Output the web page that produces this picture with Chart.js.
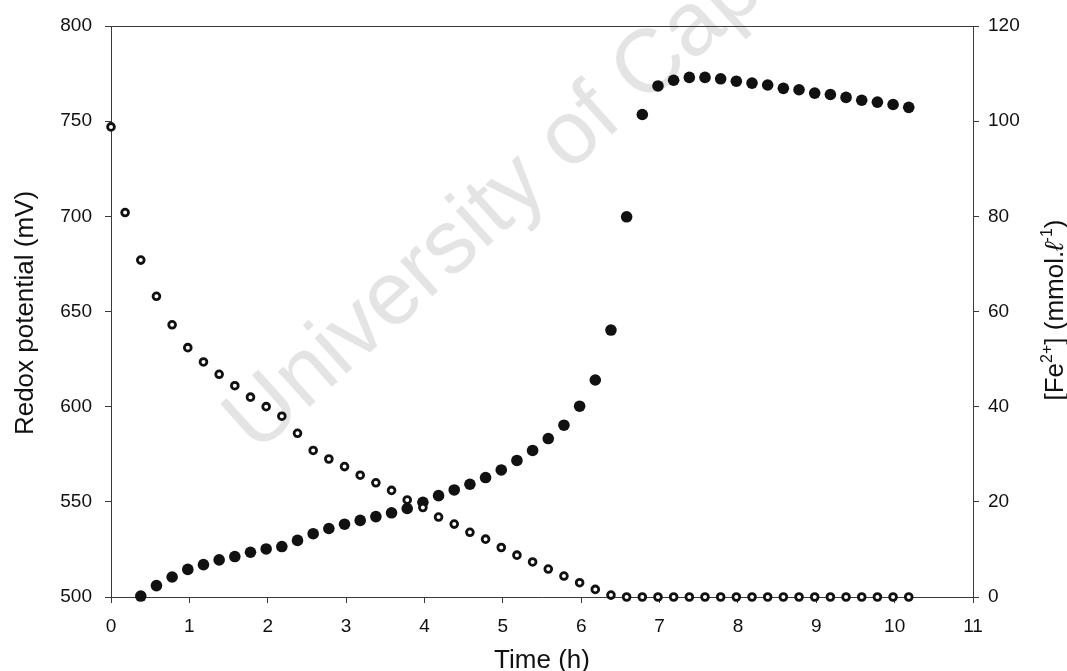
<!DOCTYPE html>
<html>
<head>
<meta charset="utf-8">
<script src="https://cdn.jsdelivr.net/npm/chart.js@4.4.1/dist/chart.umd.min.js"></script>
<style>
  html, body { margin: 0; padding: 0; background: #ffffff; }
  #wrap { width: 1067px; height: 671px; position: relative; }
</style>
</head>
<body>
<div id="wrap"><canvas id="c"></canvas></div>
<script>
// Sampling times (h) of the redox potential readings
const redoxTimes = [0, 0.18, 0.38, 0.58, 0.78, 0.98, 1.18, 1.38, 1.58, 1.78, 1.98,
  2.18, 2.38, 2.58, 2.78, 2.98, 3.18, 3.38, 3.58, 3.78, 3.98,
  4.18, 4.38, 4.58, 4.78, 4.98, 5.18, 5.38, 5.58, 5.78, 5.98,
  6.18, 6.38, 6.58, 6.78, 6.98, 7.18, 7.38, 7.58, 7.78, 7.98,
  8.18, 8.38, 8.58, 8.78, 8.98, 9.18, 9.38, 9.58, 9.78, 9.98, 10.18];

// Redox potential (mV), open circles, left axis
const redoxValues = [747, 702, 677, 658, 643, 631, 623.5, 617, 611, 605, 600,
  595, 586, 577, 572.5, 568.5, 564, 560, 556, 551, 547,
  542, 538.3, 534, 530.4, 526, 522, 518.4, 514.7, 511, 507.5,
  504, 501, 500, 500, 500, 500, 500, 500, 500, 500,
  500, 500, 500, 500, 500, 500, 500, 500, 500, 500, 500];

// Sampling times (h) of the ferrous iron readings
const ironTimes = [0.38, 0.58, 0.78, 0.98, 1.18, 1.38, 1.58, 1.78, 1.98,
  2.18, 2.38, 2.58, 2.78, 2.98, 3.18, 3.38, 3.58, 3.78, 3.98,
  4.18, 4.38, 4.58, 4.78, 4.98, 5.18, 5.38, 5.58, 5.78, 5.98,
  6.18, 6.38, 6.58, 6.78, 6.98, 7.18, 7.38, 7.58, 7.78, 7.98,
  8.18, 8.38, 8.58, 8.78, 8.98, 9.18, 9.38, 9.58, 9.78, 9.98, 10.18];

// [Fe2+] (mmol/l), filled circles, right axis
const ironValues = [0.2, 2.4, 4.2, 5.8, 6.8, 7.8, 8.5, 9.4, 10.1,
  10.6, 11.9, 13.3, 14.4, 15.3, 16.1, 16.9, 17.7, 18.6, 19.9,
  21.3, 22.5, 23.7, 25.1, 26.7, 28.7, 30.8, 33.3, 36.1, 40.1,
  45.6, 56.1, 79.9, 101.4, 107.4, 108.6, 109.2, 109.2, 108.9, 108.4,
  108.0, 107.6, 106.9, 106.6, 105.9, 105.6, 105.0, 104.4, 104.0, 103.5, 102.9];

// Axis ranges and tick steps
const timeAxis = { min: 0, max: 11, step: 1 };
const redoxAxis = { min: 500, max: 800, step: 50 };
const ironAxis = { min: 0, max: 120, step: 20 };

const FONT = "'Liberation Sans', Arial, 'DejaVu Sans', sans-serif";
const INK = '#111111';
const AXIS = '#3a3a3a';

const toPoints = (xs, ys) => xs.map((x, i) => ({ x, y: ys[i] }));

// Frame line along the top of the plot area
const topFrame = {
  id: 'topFrame',
  afterDraw(chart) {
    const { ctx, chartArea: a } = chart;
    ctx.save();
    ctx.strokeStyle = AXIS;
    ctx.lineWidth = 1;
    ctx.beginPath();
    ctx.moveTo(a.left - 6, a.top + 0.5);
    ctx.lineTo(a.right + 6, a.top + 0.5);
    ctx.stroke();
    ctx.restore();
  }
};

// Faint diagonal institution mark behind the data
const watermark = {
  id: 'watermark',
  beforeDatasetsDraw(chart) {
    const { ctx } = chart;
    ctx.save();
    ctx.translate(240, 436);
    ctx.rotate(-42 * Math.PI / 180);
    ctx.font = `90px ${FONT}`;
    ctx.fillStyle = '#e4e4e4';
    ctx.textAlign = 'left';
    ctx.textBaseline = 'middle';
    ctx.fillText('University of Cape Town', 0, 0);
    ctx.restore();
  }
};

// Axis titles, including the superscripted concentration unit
const axisTitles = {
  id: 'axisTitles',
  afterDraw(chart) {
    const { ctx, chartArea: a } = chart;
    ctx.save();
    ctx.fillStyle = INK;

    // bottom
    ctx.font = `26px ${FONT}`;
    ctx.textAlign = 'center';
    ctx.textBaseline = 'alphabetic';
    ctx.fillText('Time (h)', (a.left + a.right) / 2, 668);

    // left
    ctx.save();
    ctx.translate(33, 313);
    ctx.rotate(-Math.PI / 2);
    ctx.fillText('Redox potential (mV)', 0, 0);
    ctx.restore();

    // right, built from runs so the charge and exponent sit raised
    const size = 26, sup = 16;
    const runs = [
      { t: '[Fe', f: `${size}px ${FONT}`, dy: 0 },
      { t: '2+', f: `${sup}px ${FONT}`, dy: -11 },
      { t: '] (mmol.', f: `${size}px ${FONT}`, dy: 0 },
      { t: '\u2113', f: `italic ${size}px ${FONT}`, dy: 0 },
      { t: '-1', f: `${sup}px ${FONT}`, dy: -11 },
      { t: ')', f: `${size}px ${FONT}`, dy: 0 }
    ];
    let total = 0;
    runs.forEach(r => { ctx.font = r.f; r.w = ctx.measureText(r.t).width; total += r.w; });
    ctx.save();
    ctx.translate(1063, 310);
    ctx.rotate(-Math.PI / 2);
    ctx.textAlign = 'left';
    let x = -total / 2;
    runs.forEach(r => { ctx.font = r.f; ctx.fillText(r.t, x, r.dy); x += r.w; });
    ctx.restore();

    ctx.restore();
  }
};

const tickFont = { family: FONT, size: 19 };

new Chart(document.getElementById('c'), {
  type: 'scatter',
  data: {
    datasets: [
      {
        label: 'Redox potential',
        data: toPoints(redoxTimes, redoxValues),
        yAxisID: 'y',
        pointStyle: 'circle',
        pointRadius: 3.4,
        pointBorderWidth: 2.8,
        pointBackgroundColor: '#ffffff',
        pointBorderColor: INK,
        showLine: false,
        clip: false
      },
      {
        label: '[Fe2+]',
        data: toPoints(ironTimes, ironValues),
        yAxisID: 'y1',
        pointStyle: 'circle',
        pointRadius: 5.8,
        pointBorderWidth: 0,
        pointBackgroundColor: INK,
        pointBorderColor: INK,
        showLine: false,
        clip: false
      }
    ]
  },
  options: {
    responsive: true,
    maintainAspectRatio: false,
    animation: false,
    events: [],
    layout: { padding: { top: 26, left: 0, right: 0, bottom: 0 } },
    plugins: { legend: { display: false }, tooltip: { enabled: false } },
    scales: {
      x: {
        type: 'linear',
        min: timeAxis.min, max: timeAxis.max,
        afterFit(s) { s.height = 74; },
        ticks: { stepSize: timeAxis.step, font: tickFont, color: INK, padding: 12, maxRotation: 0 },
        grid: { display: true, drawOnChartArea: false, drawTicks: true, tickLength: 6, color: AXIS },
        border: { display: true, color: AXIS, width: 1 }
      },
      y: {
        type: 'linear', position: 'left',
        min: redoxAxis.min, max: redoxAxis.max,
        afterFit(s) { s.width = 111; },
        ticks: { stepSize: redoxAxis.step, font: tickFont, color: INK, padding: 13 },
        grid: { display: true, drawOnChartArea: false, drawTicks: true, tickLength: 6, color: AXIS },
        border: { display: true, color: AXIS, width: 1 }
      },
      y1: {
        type: 'linear', position: 'right',
        min: ironAxis.min, max: ironAxis.max,
        afterFit(s) { s.width = 94; },
        ticks: { stepSize: ironAxis.step, font: tickFont, color: INK, padding: 9 },
        grid: { display: true, drawOnChartArea: false, drawTicks: true, tickLength: 6, color: AXIS },
        border: { display: true, color: AXIS, width: 1 }
      }
    }
  },
  plugins: [watermark, topFrame, axisTitles]
});
</script>
</body>
</html>
